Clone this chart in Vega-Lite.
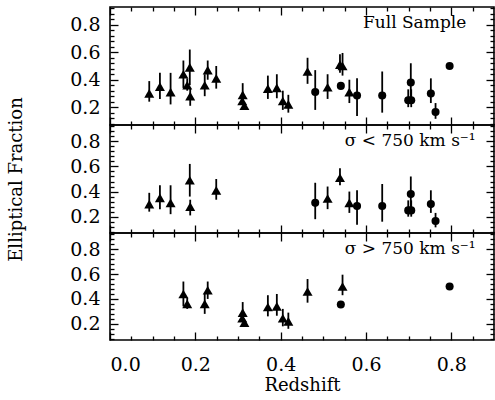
{
  "$schema": "https://vega.github.io/schema/vega-lite/v6.json",
  "padding": {"left": 6, "top": 5, "right": 0, "bottom": 0},
  "background": "white",
  "spacing": 0,
  "bounds": "flush",
  "config": {
    "view": {"stroke": "black", "strokeWidth": 1.6},
    "axis": {"labelFont": "DejaVu Serif", "labelFontSize": 19, "labelColor": "black", "titleFont": "DejaVu Serif", "titleFontSize": 18, "titleFontWeight": "normal", "titleColor": "black", "tickColor": "black", "tickWidth": 1.3, "domain": false, "grid": false, "minExtent": 0}
  },
  "datasets": {
    "pts": [
      {"z": 0.092, "f": 0.30, "lo": 0.24, "hi": 0.39, "shape": "tri", "sig": "low"},
      {"z": 0.117, "f": 0.35, "lo": 0.26, "hi": 0.45, "shape": "tri", "sig": "low"},
      {"z": 0.142, "f": 0.31, "lo": 0.22, "hi": 0.45, "shape": "tri", "sig": "low"},
      {"z": 0.172, "f": 0.44, "lo": 0.34, "hi": 0.54, "shape": "tri", "sig": "high"},
      {"z": 0.181, "f": 0.36, "lo": 0.32, "hi": 0.41, "shape": "tri", "sig": "high"},
      {"z": 0.187, "f": 0.49, "lo": 0.36, "hi": 0.62, "shape": "tri", "sig": "low"},
      {"z": 0.188, "f": 0.28, "lo": 0.21, "hi": 0.335, "shape": "tri", "sig": "low"},
      {"z": 0.222, "f": 0.36, "lo": 0.28, "hi": 0.44, "shape": "tri", "sig": "high"},
      {"z": 0.229, "f": 0.47, "lo": 0.40, "hi": 0.54, "shape": "tri", "sig": "high"},
      {"z": 0.249, "f": 0.41, "lo": 0.335, "hi": 0.50, "shape": "tri", "sig": "low"},
      {"z": 0.311, "f": 0.29, "lo": 0.24, "hi": 0.375, "shape": "tri", "sig": "high"},
      {"z": 0.310, "f": 0.245, "lo": 0.22, "hi": 0.27, "shape": "tri", "sig": "high"},
      {"z": 0.315, "f": 0.21, "lo": 0.19, "hi": 0.23, "shape": "tri", "sig": "high"},
      {"z": 0.370, "f": 0.335, "lo": 0.26, "hi": 0.43, "shape": "tri", "sig": "high"},
      {"z": 0.391, "f": 0.34, "lo": 0.265, "hi": 0.44, "shape": "tri", "sig": "high"},
      {"z": 0.405, "f": 0.245, "lo": 0.18, "hi": 0.32, "shape": "tri", "sig": "high"},
      {"z": 0.418, "f": 0.22, "lo": 0.16, "hi": 0.29, "shape": "tri", "sig": "high"},
      {"z": 0.463, "f": 0.46, "lo": 0.37, "hi": 0.56, "shape": "tri", "sig": "high"},
      {"z": 0.510, "f": 0.345, "lo": 0.26, "hi": 0.44, "shape": "tri", "sig": "low"},
      {"z": 0.539, "f": 0.51, "lo": 0.45, "hi": 0.585, "shape": "tri", "sig": "low"},
      {"z": 0.545, "f": 0.50, "lo": 0.43, "hi": 0.595, "shape": "tri", "sig": "high"},
      {"z": 0.561, "f": 0.31, "lo": 0.23, "hi": 0.40, "shape": "tri", "sig": "low"},
      {"z": 0.481, "f": 0.31, "lo": 0.18, "hi": 0.47, "shape": "circ", "sig": "low"},
      {"z": 0.541, "f": 0.355, "lo": 0.355, "hi": 0.355, "shape": "circ", "sig": "high"},
      {"z": 0.579, "f": 0.285, "lo": 0.135, "hi": 0.41, "shape": "circ", "sig": "low"},
      {"z": 0.638, "f": 0.285, "lo": 0.16, "hi": 0.46, "shape": "circ", "sig": "low"},
      {"z": 0.699, "f": 0.25, "lo": 0.20, "hi": 0.33, "shape": "circ", "sig": "low"},
      {"z": 0.706, "f": 0.25, "lo": 0.20, "hi": 0.33, "shape": "circ", "sig": "low"},
      {"z": 0.705, "f": 0.38, "lo": 0.245, "hi": 0.52, "shape": "circ", "sig": "low"},
      {"z": 0.752, "f": 0.30, "lo": 0.23, "hi": 0.41, "shape": "circ", "sig": "low"},
      {"z": 0.763, "f": 0.165, "lo": 0.115, "hi": 0.23, "shape": "circ", "sig": "low"},
      {"z": 0.796, "f": 0.50, "lo": 0.50, "hi": 0.50, "shape": "circ", "sig": "high"}
    ]
  },
  "vconcat": [
    {
      "width": 384, "height": 118,
      "data": {"name": "pts"},
      "layer": [
        {"mark": {"type": "rule", "color": "black", "strokeWidth": 1.8},
         "encoding": {
           "x": {"field": "z", "type": "quantitative", "scale": {"domain": [0, 0.9], "nice": false, "zero": false}, "axis": {"orient": "bottom", "values": [0, 0.2, 0.4, 0.6, 0.8], "tickSize": -8, "labels": false, "title": null}},
           "y": {"field": "lo", "type": "quantitative", "scale": {"domain": [0.07, 0.93], "nice": false, "zero": false}, "axis": {"orient": "left", "values": [0.2, 0.4, 0.6, 0.8], "tickSize": -8, "labelPadding": 18, "format": ".1f", "title": null}},
           "y2": {"field": "hi"}
         }},
        {"transform": [{"filter": "datum.shape == 'tri'"}],
         "mark": {"type": "point", "shape": "triangle-up", "filled": true, "color": "black", "opacity": 1, "size": 100},
         "encoding": {
           "x": {"field": "z", "type": "quantitative", "axis": {"orient": "bottom", "values": [0.05, 0.1, 0.15, 0.25, 0.3, 0.35, 0.45, 0.5, 0.55, 0.65, 0.7, 0.75, 0.85], "tickSize": -4, "labels": false, "title": null}},
           "y": {"field": "f", "type": "quantitative", "axis": {"orient": "left", "values": [0.08, 0.12, 0.16, 0.24, 0.28, 0.32, 0.36, 0.44, 0.48, 0.52, 0.56, 0.64, 0.68, 0.72, 0.76, 0.84, 0.88, 0.92], "tickSize": -4, "labels": false, "title": null}}
         }},
        {"transform": [{"filter": "datum.shape == 'circ'"}],
         "mark": {"type": "circle", "color": "black", "opacity": 1, "size": 65},
         "encoding": {
           "x": {"field": "z", "type": "quantitative", "axis": {"orient": "top", "values": [0, 0.2, 0.4, 0.6, 0.8], "tickSize": -8, "labels": false, "title": null}},
           "y": {"field": "f", "type": "quantitative", "axis": {"orient": "right", "values": [0.2, 0.4, 0.6, 0.8], "tickSize": -8, "labels": false, "title": null}}
         }},
        {"data": {"values": [{"label": "Full Sample"}]},
         "mark": {"type": "text", "font": "DejaVu Serif", "fontSize": 17, "align": "right", "baseline": "middle", "color": "black"},
         "encoding": {
           "x": {"datum": 0.835, "type": "quantitative", "axis": {"orient": "top", "values": [0.05, 0.1, 0.15, 0.25, 0.3, 0.35, 0.45, 0.5, 0.55, 0.65, 0.7, 0.75, 0.85], "tickSize": -4, "labels": false, "title": null}},
           "y": {"datum": 0.815, "type": "quantitative", "axis": {"orient": "right", "values": [0.08, 0.12, 0.16, 0.24, 0.28, 0.32, 0.36, 0.44, 0.48, 0.52, 0.56, 0.64, 0.68, 0.72, 0.76, 0.84, 0.88, 0.92], "tickSize": -4, "labels": false, "title": null}},
           "text": {"field": "label"}
         }}
      ],
      "resolve": {"axis": {"x": "independent", "y": "independent"}}
    },
    {
      "width": 384, "height": 108,
      "data": {"name": "pts"},
      "transform": [{"filter": "datum.sig == 'low'"}],
      "layer": [
        {"mark": {"type": "rule", "color": "black", "strokeWidth": 1.8},
         "encoding": {
           "x": {"field": "z", "type": "quantitative", "scale": {"domain": [0, 0.9], "nice": false, "zero": false}, "axis": {"orient": "bottom", "values": [0, 0.2, 0.4, 0.6, 0.8], "tickSize": -8, "labels": false, "title": null}},
           "y": {"field": "lo", "type": "quantitative", "scale": {"domain": [0.07, 0.93], "nice": false, "zero": false}, "axis": {"orient": "left", "values": [0.2, 0.4, 0.6, 0.8], "tickSize": -8, "labelPadding": 18, "format": ".1f", "title": "Elliptical Fraction", "titlePadding": 44}},
           "y2": {"field": "hi"}
         }},
        {"transform": [{"filter": "datum.shape == 'tri'"}],
         "mark": {"type": "point", "shape": "triangle-up", "filled": true, "color": "black", "opacity": 1, "size": 100},
         "encoding": {
           "x": {"field": "z", "type": "quantitative", "axis": {"orient": "bottom", "values": [0.05, 0.1, 0.15, 0.25, 0.3, 0.35, 0.45, 0.5, 0.55, 0.65, 0.7, 0.75, 0.85], "tickSize": -4, "labels": false, "title": null}},
           "y": {"field": "f", "type": "quantitative", "axis": {"orient": "left", "values": [0.08, 0.12, 0.16, 0.24, 0.28, 0.32, 0.36, 0.44, 0.48, 0.52, 0.56, 0.64, 0.68, 0.72, 0.76, 0.84, 0.88, 0.92], "tickSize": -4, "labels": false, "title": null}}
         }},
        {"transform": [{"filter": "datum.shape == 'circ'"}],
         "mark": {"type": "circle", "color": "black", "opacity": 1, "size": 65},
         "encoding": {
           "x": {"field": "z", "type": "quantitative", "axis": {"orient": "top", "values": [0, 0.2, 0.4, 0.6, 0.8], "tickSize": -8, "labels": false, "title": null}},
           "y": {"field": "f", "type": "quantitative", "axis": {"orient": "right", "values": [0.2, 0.4, 0.6, 0.8], "tickSize": -8, "labels": false, "title": null}}
         }},
        {"data": {"values": [{"label": "σ < 750 km s⁻¹"}]},
         "mark": {"type": "text", "font": "DejaVu Serif", "fontSize": 17, "align": "right", "baseline": "middle", "color": "black"},
         "encoding": {
           "x": {"datum": 0.857, "type": "quantitative", "axis": {"orient": "top", "values": [0.05, 0.1, 0.15, 0.25, 0.3, 0.35, 0.45, 0.5, 0.55, 0.65, 0.7, 0.75, 0.85], "tickSize": -4, "labels": false, "title": null}},
           "y": {"datum": 0.80, "type": "quantitative", "axis": {"orient": "right", "values": [0.08, 0.12, 0.16, 0.24, 0.28, 0.32, 0.36, 0.44, 0.48, 0.52, 0.56, 0.64, 0.68, 0.72, 0.76, 0.84, 0.88, 0.92], "tickSize": -4, "labels": false, "title": null}},
           "text": {"field": "label"}
         }}
      ],
      "resolve": {"axis": {"x": "independent", "y": "independent"}}
    },
    {
      "width": 384, "height": 107,
      "data": {"name": "pts"},
      "transform": [{"filter": "datum.sig == 'high'"}],
      "layer": [
        {"mark": {"type": "rule", "color": "black", "strokeWidth": 1.8},
         "encoding": {
           "x": {"field": "z", "type": "quantitative", "scale": {"domain": [0, 0.9], "nice": false, "zero": false}, "axis": {"orient": "bottom", "values": [0, 0.2, 0.4, 0.6, 0.8], "tickSize": -8, "labelPadding": 23, "format": ".1f", "title": "Redshift", "titlePadding": 2}},
           "y": {"field": "lo", "type": "quantitative", "scale": {"domain": [0.07, 0.93], "nice": false, "zero": false}, "axis": {"orient": "left", "values": [0.2, 0.4, 0.6, 0.8], "tickSize": -8, "labelPadding": 18, "format": ".1f", "title": null}},
           "y2": {"field": "hi"}
         }},
        {"transform": [{"filter": "datum.shape == 'tri'"}],
         "mark": {"type": "point", "shape": "triangle-up", "filled": true, "color": "black", "opacity": 1, "size": 100},
         "encoding": {
           "x": {"field": "z", "type": "quantitative", "axis": {"orient": "bottom", "values": [0.05, 0.1, 0.15, 0.25, 0.3, 0.35, 0.45, 0.5, 0.55, 0.65, 0.7, 0.75, 0.85], "tickSize": -4, "labels": false, "title": null}},
           "y": {"field": "f", "type": "quantitative", "axis": {"orient": "left", "values": [0.08, 0.12, 0.16, 0.24, 0.28, 0.32, 0.36, 0.44, 0.48, 0.52, 0.56, 0.64, 0.68, 0.72, 0.76, 0.84, 0.88, 0.92], "tickSize": -4, "labels": false, "title": null}}
         }},
        {"transform": [{"filter": "datum.shape == 'circ'"}],
         "mark": {"type": "circle", "color": "black", "opacity": 1, "size": 65},
         "encoding": {
           "x": {"field": "z", "type": "quantitative", "axis": {"orient": "top", "values": [0, 0.2, 0.4, 0.6, 0.8], "tickSize": -8, "labels": false, "title": null}},
           "y": {"field": "f", "type": "quantitative", "axis": {"orient": "right", "values": [0.2, 0.4, 0.6, 0.8], "tickSize": -8, "labels": false, "title": null}}
         }},
        {"data": {"values": [{"label": "σ > 750 km s⁻¹"}]},
         "mark": {"type": "text", "font": "DejaVu Serif", "fontSize": 17, "align": "right", "baseline": "middle", "color": "black"},
         "encoding": {
           "x": {"datum": 0.857, "type": "quantitative", "axis": {"orient": "top", "values": [0.05, 0.1, 0.15, 0.25, 0.3, 0.35, 0.45, 0.5, 0.55, 0.65, 0.7, 0.75, 0.85], "tickSize": -4, "labels": false, "title": null}},
           "y": {"datum": 0.80, "type": "quantitative", "axis": {"orient": "right", "values": [0.08, 0.12, 0.16, 0.24, 0.28, 0.32, 0.36, 0.44, 0.48, 0.52, 0.56, 0.64, 0.68, 0.72, 0.76, 0.84, 0.88, 0.92], "tickSize": -4, "labels": false, "title": null}},
           "text": {"field": "label"}
         }}
      ],
      "resolve": {"axis": {"x": "independent", "y": "independent"}}
    }
  ]
}
